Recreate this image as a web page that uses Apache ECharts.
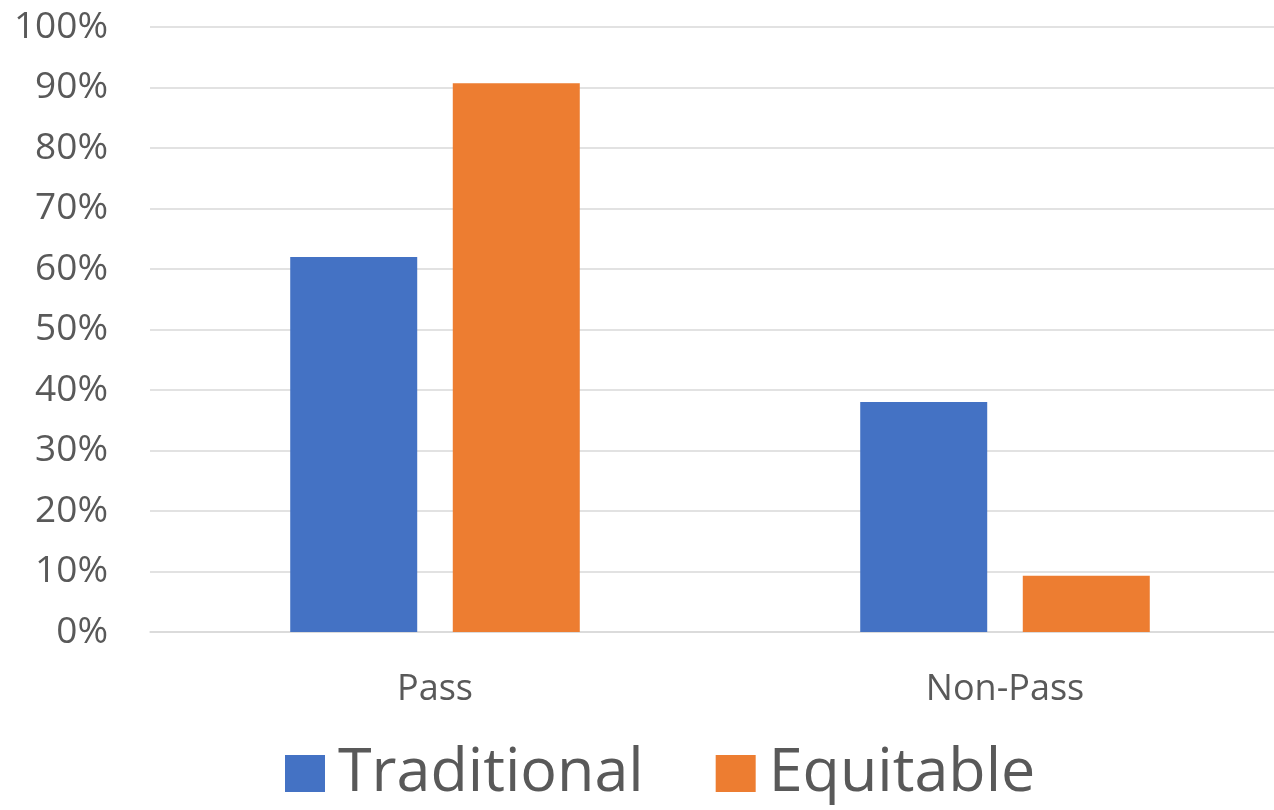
<!DOCTYPE html>
<html>
<head>
<meta charset="utf-8">
<script src="https://cdn.jsdelivr.net/npm/echarts@6/dist/echarts.min.js"></script>
<style>
  html, body { margin: 0; padding: 0; background: #ffffff; overflow: hidden; }
  #wrap { width: 1274px; height: 810px; overflow: hidden; }
  /* the plot area runs slightly past the right edge, so the canvas is wider than the view */
  #chart { width: 1290px; height: 810px; }
</style>
</head>
<body>
<div id="wrap"><div id="chart"></div></div>
<script>
// Share of students in each outcome, by grading approach (percent)
const categories = ['Pass', 'Non-Pass'];
const traditional = [62, 38];
const equitable = [90.7, 9.3];
const seriesNames = ['Traditional', 'Equitable'];
const yTicks = { min: 0, max: 100, interval: 10 };

const textColor = '#595959';
const fontFamily = '"Open Sans", "Noto Sans", sans-serif';

const chart = echarts.init(document.getElementById('chart'), null, { renderer: 'canvas' });

chart.setOption({
  animation: false,
  backgroundColor: '#ffffff',
  grid: { left: 150, top: 27, width: 1140, height: 605 },
  legend: {
    data: seriesNames,
    left: 285,
    top: 743,
    padding: 0,
    itemWidth: 40,
    itemHeight: 37,
    itemGap: 72,
    icon: 'rect',
    textStyle: { color: textColor, fontSize: 61, fontFamily: fontFamily, padding: [0, 0, 0, 8] }
  },
  xAxis: {
    type: 'category',
    data: categories,
    axisTick: { show: false },
    axisLine: { show: true, lineStyle: { color: '#d9d9d9', width: 1.5 } },
    axisLabel: { color: textColor, fontSize: 36, fontFamily: fontFamily, margin: 40 }
  },
  yAxis: {
    type: 'value',
    min: yTicks.min,
    max: yTicks.max,
    interval: yTicks.interval,
    axisLine: { show: false },
    axisTick: { show: false },
    splitLine: { lineStyle: { color: '#d9d9d9', width: 1.5 } },
    axisLabel: {
      color: textColor, fontSize: 37, fontFamily: fontFamily, margin: 42,
      formatter: v => v + '%'
    }
  },
  series: [
    {
      name: seriesNames[0], type: 'bar', data: traditional,
      barWidth: 127, barGap: '28%',
      itemStyle: { color: '#4472C4' }
    },
    {
      name: seriesNames[1], type: 'bar', data: equitable,
      barWidth: 127, barGap: '28%',
      itemStyle: { color: '#ED7D31' }
    }
  ]
});
</script>
</body>
</html>
